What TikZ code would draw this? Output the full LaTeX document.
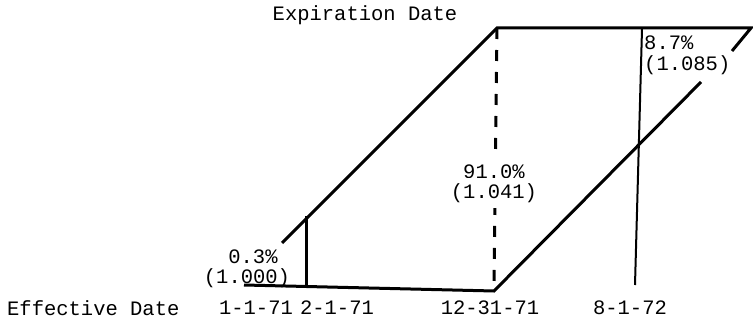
\documentclass[tikz,border=0pt]{standalone}
\usepackage{fontspec}
\setmonofont{Liberation Mono}
\begin{document}
\begin{tikzpicture}[x=1pt,y=-1pt,
  lbl/.style={font=\ttfamily\fontsize{20.5}{22}\selectfont, inner sep=0pt},
  heavy/.style={line width=3pt},
  thin/.style={line width=2pt},
  dashline/.style={line width=3pt, dash pattern=on 11pt off 11pt}]
\useasboundingbox (0,0) rectangle (753,321);
% corners
\coordinate (tl) at (497,28);
\coordinate (tr) at (751,28);
\coordinate (tail) at (732,51);
\coordinate (ll) at (282,243);
\coordinate (bl) at (244,285);
\coordinate (br) at (494,291);
\coordinate (rd) at (701,82);
\coordinate (v1t) at (306,216);
\coordinate (v1b) at (306,287);
\coordinate (v2t) at (642,29);
\coordinate (v2b) at (635,285);
% lines
\draw[heavy] (ll) -- (tl) -- (tr) -- (tail);
\draw[heavy] (bl) -- (br) -- (rd);
\draw[heavy] (v1t) -- (v1b);
\draw[thin] (v2t) -- (v2b);
\draw[dashline] (tl) -- (br);
% labels
\node[lbl] (exp) at (365,15) {Expiration Date};
\node[lbl, anchor=west] (eff) at (7,308) {Effective Date};
\node[lbl] (d1) at (256,308) {1-1-71};
\node[lbl] (d2) at (337,308) {2-1-71};
\node[lbl] (d3) at (490,308) {12-31-71};
\node[lbl] (d4) at (630,308) {8-1-72};
\node[lbl, fill=white, inner sep=1pt] (p1) at (253,257) {0.3\%};
\node[lbl] (r1) at (247,278) {(1.000)};
\node[lbl, fill=white, inner xsep=2pt, inner ysep=7pt] (p2) at (494,172) {91.0\%};
\node[lbl, fill=white, inner xsep=2pt, inner ysep=5pt] (r2) at (494,193) {(1.041)};
\node[lbl, anchor=west] (p3) at (644,43) {8.7\%};
\node[lbl, anchor=west] (r3) at (644,65) {(1.085)};
\end{tikzpicture}
\end{document}
